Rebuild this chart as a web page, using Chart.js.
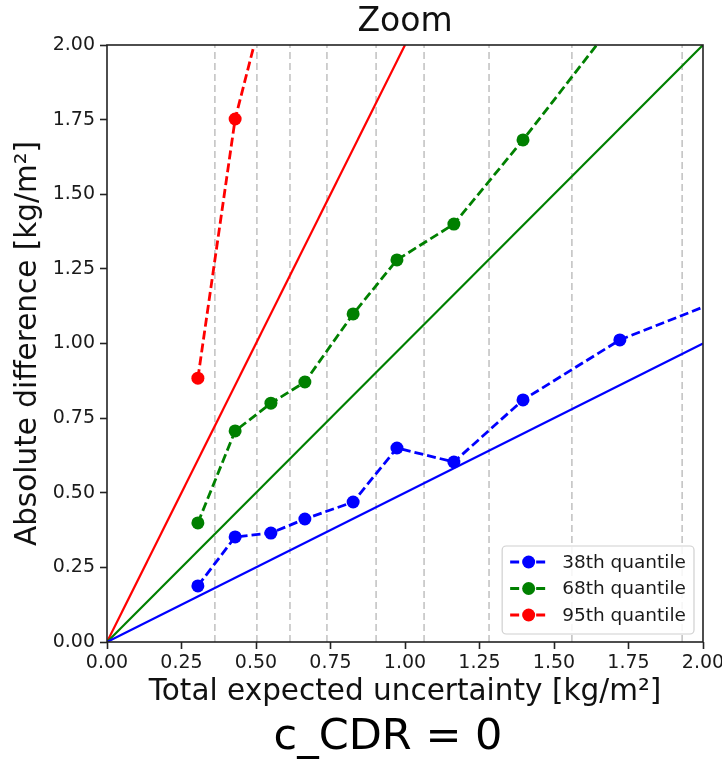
<!DOCTYPE html>
<html><head><meta charset="utf-8">
<script src="https://cdn.jsdelivr.net/npm/chart.js@4.4.1/dist/chart.umd.min.js"></script>
<style>html,body{margin:0;padding:0;background:#fff}canvas{display:block}</style>
</head><body>
<canvas id="c" width="722" height="759"></canvas>
<script>
const FONT = "'DejaVu Sans', 'Liberation Sans', sans-serif";

// ---- data ----
const uncertainty = [0.305, 0.430, 0.550, 0.664, 0.826, 0.973, 1.164, 1.396, 1.721, 2.300];
const q38 = [0.188, 0.352, 0.365, 0.412, 0.469, 0.650, 0.603, 0.811, 1.012, 1.240];
const q68 = [0.399, 0.707, 0.800, 0.871, 1.099, 1.280, 1.400, 1.682, 2.100];
const q95 = [0.884, 1.752, 2.220];
const seriesLabels = ['38th quantile', '68th quantile', '95th quantile'];
const seriesColors = ['#0000ff', '#008000', '#ff0000'];
// reference (expected) lines: endpoints
const refX = [[0, 2], [0, 2], [0, 1]];
const refY = [[0, 1], [0, 2], [0, 2]];
// bin edges shown as dashed vertical lines
const binEdges = [0.362, 0.503, 0.614, 0.738, 0.903, 1.064, 1.282, 1.560, 1.930];
const titleText = 'Zoom';
const xTitle = 'Total expected uncertainty [kg/m²]';
const yTitle = 'Absolute difference [kg/m²]';
const footerText = 'c_CDR = 0';

const pts = (xs, ys) => ys.map((y, i) => ({x: xs[i], y}));
const qSeries = [q38, q68, q95];

const datasets = [];
qSeries.forEach((ys, i) => {
  datasets.push({
    label: seriesLabels[i], data: pts(uncertainty, ys), showLine: true,
    borderColor: seriesColors[i], backgroundColor: seriesColors[i],
    borderWidth: 2.8, borderDash: [9, 4], pointRadius: 6.5, pointHoverRadius: 6.5,
    pointBorderWidth: 0, order: 0, clip: 0, isQuantile: true
  });
});
refX.forEach((xs, i) => {
  datasets.push({
    label: 'ref' + i, data: pts(xs, refY[i]), showLine: true,
    borderColor: seriesColors[i], borderWidth: 2.2, pointRadius: 0, order: 5, clip: 0
  });
});
datasets.push({
  label: 'bins',
  data: binEdges.flatMap(e => [{x: e, y: 0}, {x: e, y: 2}, {x: e, y: null}]),
  showLine: true, spanGaps: false, borderColor: '#c4c4c4', borderWidth: 1.6,
  borderDash: [7, 4], pointRadius: 0, order: 10, clip: 0
});

const framePlugin = {
  id: 'frame',
  afterDatasetsDraw(chart) {
    const {ctx, chartArea: a} = chart;
    ctx.save();
    // legend
    const items = chart.data.datasets.filter(d => d.isQuantile);
    ctx.font = '18.5px ' + FONT;
    const tw = Math.max(...items.map(d => ctx.measureText(d.label).width));
    const rowH = 26.5;
    const bw = 60 + tw + 8, bh = 16 + rowH * (items.length - 1) + 19;
    const bx = a.right - 9 - bw, by = a.bottom - 8 - bh;
    ctx.beginPath();
    ctx.roundRect(bx, by, bw, bh, 4);
    ctx.fillStyle = 'rgba(255,255,255,0.85)';
    ctx.fill();
    ctx.strokeStyle = '#d0d0d0';
    ctx.lineWidth = 1.2;
    ctx.stroke();
    items.forEach((d, i) => {
      const cy = by + 16 + i * rowH;
      ctx.strokeStyle = d.borderColor;
      ctx.lineWidth = 2.8;
      ctx.setLineDash([9, 4]);
      ctx.beginPath();
      ctx.moveTo(bx + 8, cy); ctx.lineTo(bx + 45, cy);
      ctx.stroke();
      ctx.setLineDash([]);
      ctx.fillStyle = d.borderColor;
      ctx.beginPath();
      ctx.arc(bx + 26.5, cy, 6.5, 0, Math.PI * 2);
      ctx.fill();
      ctx.fillStyle = '#1a1a1a';
      ctx.textAlign = 'left';
      ctx.textBaseline = 'middle';
      ctx.fillText(d.label, bx + 60, cy + 1);
    });
    // axes frame
    ctx.strokeStyle = '#222';
    ctx.lineWidth = 1.6;
    ctx.strokeRect(a.left, a.top, a.right - a.left, a.bottom - a.top);
    ctx.restore();
  },
  afterDraw(chart) {
    const {ctx} = chart;
    ctx.save();
    ctx.font = '43px ' + FONT;
    ctx.fillStyle = '#000';
    ctx.textAlign = 'center';
    ctx.textBaseline = 'middle';
    ctx.fillText(footerText, 388, 738);
    ctx.restore();
  }
};

const tickFont = {family: FONT, size: 19, lineHeight: 1.2};
const gridOpts = {drawOnChartArea: false, drawTicks: true, tickLength: 7, tickColor: '#222', tickWidth: 1.6};

new Chart(document.getElementById('c'), {
  type: 'scatter',
  data: {datasets},
  options: {
    responsive: false, animation: false, events: [],
    layout: {padding: {top: 0, left: 0, right: 0, bottom: 42}},
    plugins: {
      legend: {display: false}, tooltip: {enabled: false},
      title: {display: true, text: titleText, fullSize: false, color: '#111',
        font: {family: FONT, size: 33, weight: 'normal', lineHeight: 1.0},
        padding: {top: 6, bottom: 6}}
    },
    scales: {
      x: {
        type: 'linear', min: 0, max: 2,
        ticks: {stepSize: 0.25, color: '#1a1a1a', font: tickFont, padding: 3,
          maxRotation: 0, autoSkip: false, callback: v => v.toFixed(2)},
        grid: gridOpts, border: {display: false},
        title: {display: true, text: xTitle, color: '#111',
          font: {family: FONT, size: 29.5, lineHeight: 1.0}, padding: {top: 0, bottom: 10}},
        afterFit(s) { s.height = 75; s.paddingLeft = 0; s.paddingRight = 19; }
      },
      y: {
        type: 'linear', min: 0, max: 2,
        ticks: {stepSize: 0.25, color: '#1a1a1a', font: tickFont, padding: 5,
          callback: v => v.toFixed(2)},
        grid: gridOpts, border: {display: false},
        title: {display: true, text: yTitle, color: '#111',
          font: {family: FONT, size: 29.5, lineHeight: 1.0}, padding: {top: 14, bottom: 0}},
        afterFit(s) { s.width = 107; s.paddingTop = 0; s.paddingBottom = 0; }
      }
    }
  },
  plugins: [framePlugin]
});
</script>
</body></html>
